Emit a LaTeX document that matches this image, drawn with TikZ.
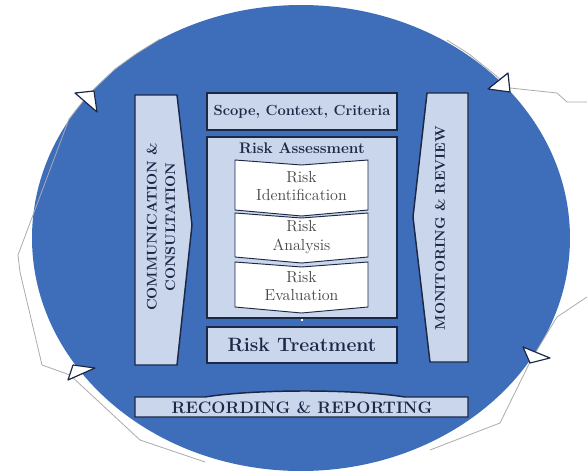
\documentclass[tikz,border=0pt]{standalone}
\usepackage{amsmath}
\usepackage{tikz}

\definecolor{isoblue}{RGB}{62,110,186}
\definecolor{panelfill}{RGB}{201,214,236}
\definecolor{panelline}{RGB}{28,40,70}
\definecolor{cycleline}{RGB}{170,170,170}
\definecolor{steptext}{RGB}{70,70,70}

\tikzset{
  panel/.style={draw=panelline, line width=1.1pt, fill=panelfill, inner sep=0pt},
  stepshape/.style={draw=panelline, line width=0.7pt, fill=white},
  steplabel/.style={align=center, text=steptext, font=\fontsize{12}{14}\selectfont},
  headlabel/.style={font=\bfseries\fontsize{11}{12}\selectfont, text=panelline},
  sidelabel/.style={rotate=90, align=center, font=\bfseries\fontsize{10.5}{14}\selectfont, text=panelline},
  cycletip/.style={draw=panelline, line width=0.9pt, fill=white, line join=round},
}

\begin{document}
\begin{tikzpicture}[x=0.75pt,y=0.75pt,yscale=-1,xscale=1]
\useasboundingbox (0,0) rectangle (587,475);

%Shape: Ellipse [the blue disc]
\fill[isoblue] (301,238) ellipse [x radius=269, y radius=233];

%Cycle outline round the disc
\draw[cycleline, line width=0.6pt] (160,39) -- (136,54) -- (115,69) -- (88,95) -- (69,119) -- (18,255) -- (20,272) -- (42,365) -- (70,375) -- (140,440) -- (205,462) ;
\draw[cycleline, line width=0.6pt] (447,40) -- (469,54) -- (494,74) -- (510,88) -- (557,93) -- (567,102) -- (587,102) ;
\draw[cycleline, line width=0.6pt] (587,297) -- (557,317) -- (540,345) -- (530,362) -- (500,423) -- (430,450) ;

%Triangle tips
\draw[cycletip] (75,93) -- (94,91) -- (97,112) -- cycle ;
\draw[cycletip] (488,89) -- (508,73) -- (510,92) -- cycle ;
\draw[cycletip] (68,380) -- (73,365) -- (95,368) -- cycle ;
\draw[cycletip] (523,347) -- (530,363) -- (550,358) -- cycle ;

%Left column
\draw[panel] (135,95) -- (177,95) -- (192,225) -- (177,365) -- (135,365) -- cycle ;
\node[sidelabel] (comm) at (161,227) {COMMUNICATION \&\\CONSULTATION};

%Right column
\draw[panel] (427,93) -- (468,93) -- (468,362) -- (430,362) -- (413,217) -- cycle ;
\node[sidelabel] (monitor) at (440,228) {MONITORING \& REVIEW};

%Centre boxes
\node[panel, minimum width=142.5pt, minimum height=27.75pt, headlabel] (scope) at (302,111.5) {Scope, Context, Criteria};
\node[panel, minimum width=142.5pt, minimum height=135.75pt] (assess) at (302,227.5) {};
\node[headlabel, font=\bfseries\fontsize{11.5}{12}\selectfont] (assesstitle) at (302,148) {Risk Assessment};
\node[panel, minimum width=142.5pt, minimum height=27pt, headlabel, font=\bfseries\fontsize{14.5}{16}\selectfont] (treat) at (302,345) {Risk Treatment};

%Steps
\draw[stepshape] (235,160) -- (301.5,165) -- (368,160) -- (368,210) -- (301.5,216) -- (235,210) -- cycle ;
\node[steplabel] (ident) at (301.5,186) {Risk\\Identification};
\draw[stepshape] (235,213) -- (301.5,218) -- (368,213) -- (368,257) -- (301.5,263) -- (235,257) -- cycle ;
\node[steplabel] (analysis) at (301.5,237) {Risk\\Analysis};
\draw[stepshape] (235,262) -- (301.5,267) -- (368,262) -- (368,307) -- (301.5,313) -- (235,307) -- cycle ;
\node[steplabel] (evaluation) at (301.5,286) {Risk\\Evaluation};

%Link assessment to treatment
\draw[white, line width=2.2pt, shorten >=4pt] (assess.south) -- (treat.north) ;

%Bottom bar
\draw[panel] (135,397) -- (205,397) .. controls (255,389) and (355,389) .. (405,397) -- (468,397) -- (468,417) -- (135,417) -- cycle ;
\node[headlabel, font=\bfseries\fontsize{12.5}{13}\selectfont] (record) at (302,407.5) {RECORDING \& REPORTING};

\end{tikzpicture}
\end{document}
